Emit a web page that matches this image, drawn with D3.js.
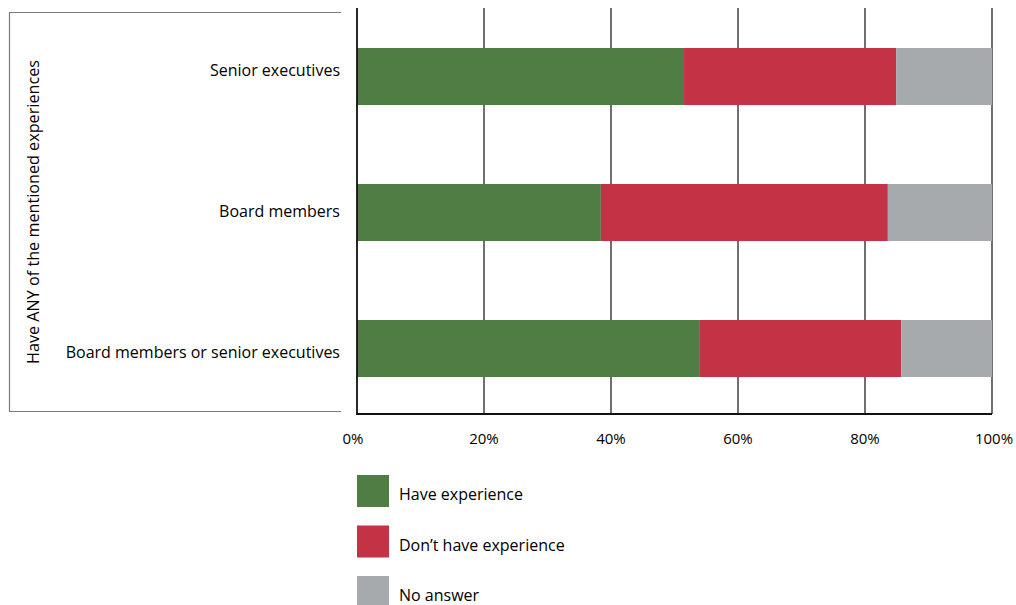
<!DOCTYPE html>
<html>
<head>
<meta charset="utf-8">
<script src="https://cdn.jsdelivr.net/npm/d3@7"></script>
<style>
  html, body { margin: 0; padding: 0; background: #fff; }
  svg { display: block; }
  text { font-family: "Open Sans", "Noto Sans", sans-serif; fill: #000; }
</style>
</head>
<body>
<svg id="chart" width="1016" height="605"></svg>
<script>
// Groups of respondents (top to bottom)
const categories = ["Senior executives", "Board members", "Board members or senior executives"];
// Share of answers per group, in percent
const haveExperience = [51.5, 38.4, 54.0];
const dontHaveExperience = [33.4, 45.2, 31.7];
const noAnswer = [15.1, 16.4, 14.3];
const seriesNames = ["Have experience", "Don\u2019t have experience", "No answer"];
const seriesColors = ["#507d43", "#c43245", "#a6aaad"];
const tickValues = [0, 20, 40, 60, 80, 100];
const groupTitle = "Have ANY of the mentioned experiences";

const svg = d3.select("#chart");

const plot = { left: 357, right: 992, top: 8, bottom: 414 };

const x = d3.scaleLinear().domain([0, 100]).range([plot.left, plot.right]);
const y = d3.scaleBand().domain(categories)
  .range([7.2, 417.8]).paddingInner(0.581).paddingOuter(0.3);
// Category labels sit on their own, slightly wider spacing
const yLabel = d3.scalePoint().domain(categories).range([70, 352]);

// Stack the three series per group
const rows = categories.map((c, i) => ({
  cat: c,
  [seriesNames[0]]: haveExperience[i],
  [seriesNames[1]]: dontHaveExperience[i],
  [seriesNames[2]]: noAnswer[i]
}));
const stacked = d3.stack().keys(seriesNames)(rows);

// Outline of the category panel (top, left, bottom)
svg.append("path")
  .attr("d", "M341,12.5 H9.5 V411.5 H341")
  .attr("fill", "none").attr("stroke", "#7a7a7a").attr("stroke-width", 1.2);

// Vertical gridlines
svg.append("g").selectAll("line").data(tickValues.slice(1)).join("line")
  .attr("x1", d => x(d)).attr("x2", d => x(d))
  .attr("y1", plot.top).attr("y2", plot.bottom)
  .attr("stroke", "#222").attr("stroke-width", 1.3);

// Bars
svg.append("g").selectAll("g").data(stacked).join("g")
  .attr("fill", (d, i) => seriesColors[i])
  .selectAll("rect").data(d => d).join("rect")
  .attr("x", d => x(d[0]))
  .attr("width", d => x(d[1]) - x(d[0]))
  .attr("y", d => y(d.data.cat))
  .attr("height", y.bandwidth());

// Axis lines (left and bottom)
svg.append("path")
  .attr("d", `M${plot.left},${plot.top} V${plot.bottom} H${plot.right}`)
  .attr("fill", "none").attr("stroke", "#111").attr("stroke-width", 1.8);

// X tick labels
svg.append("g").selectAll("text").data(tickValues).join("text")
  .attr("x", d => x(d) - (d === 0 ? 4 : 0) + (d === 100 ? 2 : 0))
  .attr("y", 438)
  .attr("text-anchor", "middle")
  .attr("dominant-baseline", "central")
  .attr("font-size", 15)
  .text(d => d + "%");

// Category labels
svg.append("g").selectAll("text").data(categories).join("text")
  .attr("x", 340)
  .attr("y", d => yLabel(d))
  .attr("text-anchor", "end")
  .attr("dominant-baseline", "central")
  .attr("font-size", 16)
  .text(d => d);

// Rotated group title
svg.append("text")
  .attr("transform", "translate(33,212) rotate(-90)")
  .attr("text-anchor", "middle")
  .attr("dominant-baseline", "central")
  .attr("font-size", 16.2)
  .text(groupTitle);

// Legend
const legend = svg.append("g").selectAll("g").data(seriesNames).join("g")
  .attr("transform", (d, i) => `translate(357,${475 + i * 50.5})`);
legend.append("rect")
  .attr("width", 32).attr("height", 32)
  .attr("fill", (d, i) => seriesColors[i]);
legend.append("text")
  .attr("x", 42).attr("y", 19)
  .attr("dominant-baseline", "central")
  .attr("font-size", 16)
  .text(d => d);
</script>
</body>
</html>
